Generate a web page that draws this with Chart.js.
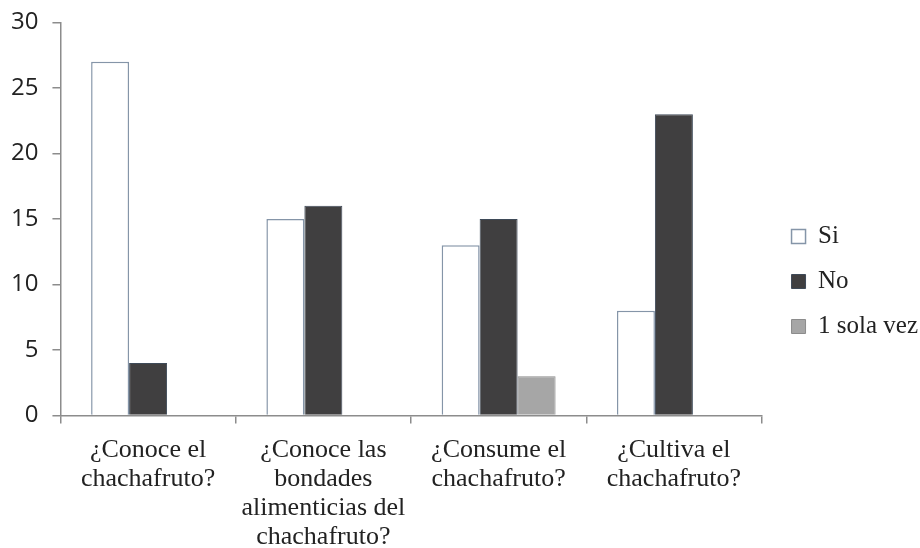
<!DOCTYPE html>
<html>
<head>
<meta charset="utf-8">
<script src="https://cdn.jsdelivr.net/npm/chart.js@4"></script>
<style>
  html, body { margin: 0; padding: 0; background: #fff; }
  #wrap { width: 920px; height: 548px; }
</style>
</head>
<body>
<div id="wrap"><canvas id="chart"></canvas></div>
<script>
const categories = [
  ['¿Conoce el', 'chachafruto?'],
  ['¿Conoce las', 'bondades', 'alimenticias del', 'chachafruto?'],
  ['¿Consume el', 'chachafruto?'],
  ['¿Cultiva el', 'chachafruto?']
];
const siValues = [27, 15, 13, 8];
const noValues = [4, 16, 15, 23];
const unaVezValues = [null, null, 3, null];
const yTicks = [0, 5, 10, 15, 20, 25, 30];

const axisGray = '#8c8c8c';
const serif = "'Liberation Serif', 'Times New Roman', serif";
const legendGap = 10; // extra room between plot and legend
const legendLift = 2;

// widen the legend box and push it right so the gap to the plot grows
const legendGapPlugin = {
  id: 'legendGap',
  afterInit(chart) {
    const lg = chart.legend;
    const fit = lg.fit;
    lg.fit = function () {
      fit.call(this);
      this.width += legendGap;
    };
  },
  afterLayout(chart) {
    chart.legend.left += legendGap;
    chart.legend.right += legendGap;
    chart.legend.top -= legendLift;
    chart.legend.bottom -= legendLift;
  }
};

new Chart(document.getElementById('chart').getContext('2d'), {
  type: 'bar',
  data: {
    labels: categories,
    datasets: [
      { label: 'Si', data: siValues, backgroundColor: '#ffffff', borderColor: '#8595a8', borderWidth: 1.5 },
      { label: 'No', data: noValues, backgroundColor: '#403f40', borderColor: '#3e4a58', borderWidth: 1 },
      { label: '1 sola vez', data: unaVezValues, backgroundColor: '#a6a6a6', borderColor: '#8c8c8c', borderWidth: 1 }
    ]
  },
  options: {
    responsive: true,
    maintainAspectRatio: false,
    animation: false,
    datasets: { bar: { categoryPercentage: 0.65, barPercentage: 1 } },
    layout: { padding: { top: 3, left: -3, right: -8, bottom: -16 } },
    plugins: {
      legend: {
        position: 'right',
        labels: {
          font: { family: serif, size: 25 },
          color: '#222',
          boxWidth: 14,
          boxHeight: 14,
          padding: 20
        }
      },
      title: { display: false },
      tooltip: { enabled: false }
    },
    scales: {
      x: {
        grid: { display: true, drawOnChartArea: false, color: axisGray, tickLength: 8, lineWidth: 1.5 },
        border: { color: axisGray, width: 1.5 },
        ticks: {
          font: { family: serif, size: 26, lineHeight: 1.12 },
          color: '#222',
          maxRotation: 0,
          padding: 12
        }
      },
      y: {
        min: 0,
        max: 30,
        afterBuildTicks: (axis) => { axis.ticks = yTicks.map(v => ({ value: v })); },
        grid: { display: true, drawOnChartArea: false, color: axisGray, tickLength: 8, lineWidth: 1.5 },
        border: { color: axisGray, width: 1.5 },
        ticks: {
          font: { family: 'Open Sans', size: 24, lineHeight: 0.7 },
          color: '#222',
          padding: 14
        }
      }
    }
  },
  plugins: [legendGapPlugin]
});
</script>
</body>
</html>
